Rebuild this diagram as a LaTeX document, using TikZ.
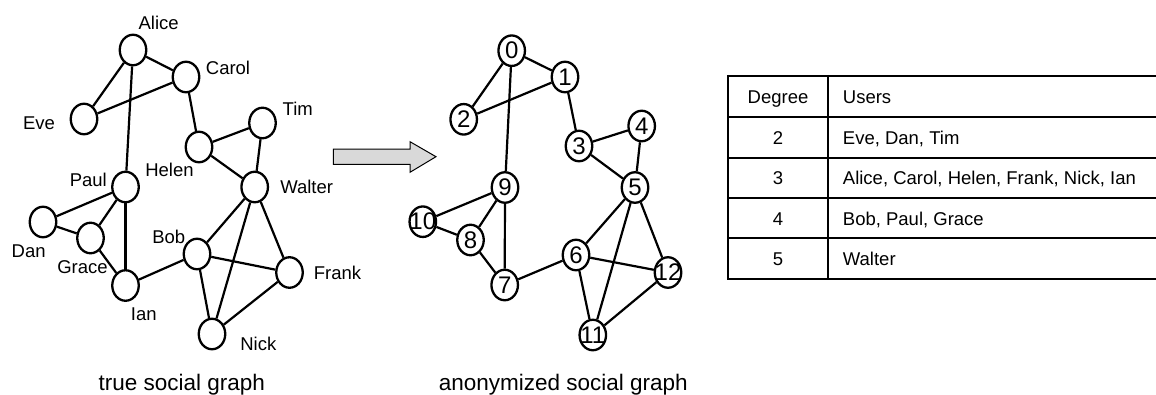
\documentclass[tikz,border=0pt]{standalone}
\usepackage{fontspec}
\setmainfont{Liberation Sans}
\usetikzlibrary{shapes.geometric}
\begin{document}
\begin{tikzpicture}[x=1pt,y=-1pt,
  vtx/.style={ellipse, draw, line width=2.3pt, minimum width=26.5pt, minimum height=30.5pt, inner sep=0pt},
  edge/.style={line width=2.2pt},
  lbl/.style={font=\fontsize{18.5}{20}\selectfont, inner sep=0pt},
  num/.style={font=\fontsize{24}{26}\selectfont, inner sep=0pt},
  capt/.style={font=\fontsize{22.5}{24}\selectfont, inner sep=0pt, anchor=base},
  cell/.style={font=\fontsize{18.5}{20}\selectfont, inner sep=0pt, anchor=base},
  tline/.style={line width=2.2pt},
  bigarrow/.style={draw, line width=1pt, fill=black!15}]
\useasboundingbox (0,0) rectangle (1156,394);

% ---------- true social graph ----------
\node[vtx] (alice)  at (133,50)    {};
\node[vtx] (carol)  at (186,77)    {};
\node[vtx] (eve)    at (84,119)    {};
\node[vtx] (helen)  at (199,147)   {};
\node[vtx] (tim)    at (262.5,123) {};
\node[vtx] (walter) at (254.7,187) {};
\node[vtx] (paul)   at (125.5,187) {};
\node[vtx] (dan)    at (43,222)    {};
\node[vtx] (grace)  at (90.5,238)  {};
\node[vtx] (ian)    at (125.5,285.5) {};
\node[vtx] (bob)    at (197,254)   {};
\node[vtx] (frank)  at (289.5,272.5) {};
\node[vtx] (nick)   at (212,334)   {};

\node[lbl] (lalice)  at (158.7,22.5)  {Alice};
\node[lbl] (lcarol)  at (228,68.3)    {Carol};
\node[lbl] (leve)    at (39,123.7)    {Eve};
\node[lbl] (ltim)    at (297.8,108.3) {Tim};
\node[lbl] (lhelen)  at (169.5,170)   {Helen};
\node[lbl] (lwalter) at (306.7,186.7) {Walter};
\node[lbl] (lpaul)   at (88.3,179.7)  {Paul};
\node[lbl] (ldan)    at (28.7,251.7)  {Dan};
\node[lbl] (lgrace)  at (82.5,266.7)  {Grace};
\node[lbl] (lian)    at (143.8,314)   {Ian};
\node[lbl] (lbob)    at (168.8,236.7) {Bob};
\node[lbl] (lfrank)  at (337.5,273.3) {Frank};
\node[lbl] (lnick)   at (258.3,344)   {Nick};

\draw[edge] (alice) -- (carol);
\draw[edge] (alice) -- (eve);
\draw[edge] (alice) -- (paul);
\draw[edge] (eve) -- (carol);
\draw[edge] (carol) -- (helen);
\draw[edge] (helen) -- (tim);
\draw[edge] (helen) -- (walter);
\draw[edge] (tim) -- (walter);
\draw[edge] (walter) -- (bob);
\draw[edge] (walter) -- (nick);
\draw[edge] (walter) -- (frank);
\draw[edge] (bob) -- (frank);
\draw[edge] (bob) -- (nick);
\draw[edge] (frank) -- (nick);
\draw[edge] (bob) -- (ian);
\draw[edge] (paul) -- (dan);
\draw[edge] (paul) -- (grace);
\draw[edge] (paul) -- (ian);
\draw[edge] (dan) -- (grace);
\draw[edge] (grace) -- (ian);

\node[capt] (cap1) at (181.7,390) {true social graph};

% ---------- arrow ----------
\draw[bigarrow] (333.3,149) -- (410,149) -- (410,141.7) -- (436,156.7)
  -- (410,172.3) -- (410,164.3) -- (333.3,164.3) -- cycle;

% ---------- anonymized social graph ----------
\node[vtx, label={[num]center:0}]  (r0)  at (511.7,50.7)  {};
\node[vtx, label={[num]center:1}]  (r1)  at (565,77)      {};
\node[vtx, label={[num]center:2}]  (r2)  at (463.7,119.3) {};
\node[vtx, label={[num]center:3}]  (r3)  at (579,146)     {};
\node[vtx, label={[num]center:4}]  (r4)  at (641.7,126)   {};
\node[vtx, label={[num]center:5}]  (r5)  at (635,187.5)   {};
\node[vtx, label={[num]center:9}]  (r9)  at (505,187.5)   {};
\node[vtx, label={[num]center:10}] (r10) at (422.8,221.7) {};
\node[vtx, label={[num]center:8}]  (r8)  at (470.5,240)   {};
\node[vtx, label={[num]center:7}]  (r7)  at (504.7,285)   {};
\node[vtx, label={[num]center:6}]  (r6)  at (576,255)     {};
\node[vtx, label={[num]center:12}] (r12) at (668,272.5)   {};
\node[vtx, label={[num]center:11}] (r11) at (592.8,335)   {};

\draw[edge] (r0) -- (r1);
\draw[edge] (r0) -- (r2);
\draw[edge] (r0) -- (r9);
\draw[edge] (r1) -- (r2);
\draw[edge] (r1) -- (r3);
\draw[edge] (r3) -- (r4);
\draw[edge] (r3) -- (r5);
\draw[edge] (r4) -- (r5);
\draw[edge] (r5) -- (r6);
\draw[edge] (r5) -- (r11);
\draw[edge] (r5) -- (r12);
\draw[edge] (r6) -- (r12);
\draw[edge] (r6) -- (r11);
\draw[edge] (r11) -- (r12);
\draw[edge] (r6) -- (r7);
\draw[edge] (r9) -- (r10);
\draw[edge] (r9) -- (r8);
\draw[edge] (r9) -- (r7);
\draw[edge] (r10) -- (r8);
\draw[edge] (r8) -- (r7);

\node[capt] (cap2) at (563.3,390) {anonymized social graph};

% ---------- table ----------
\draw[tline] (728.3,76) -- (1156,76);
\draw[tline] (728.3,117.3) -- (1156,117.3);
\draw[tline] (728.3,157.7) -- (1156,157.7);
\draw[tline] (728.3,197.7) -- (1156,197.7);
\draw[tline] (728.3,238.3) -- (1156,238.3);
\draw[tline] (728.3,279.3) -- (1156,279.3);
\draw[tline] (728.3,74.9) -- (728.3,280.4);
\draw[tline] (828.3,74.9) -- (828.3,280.4);

\node[cell] (h1) at (778,103.5) {Degree};
\node[cell, anchor=base west] (h2) at (842.7,103.5) {Users};
\node[cell] (d2) at (778,144.2) {2};
\node[cell, anchor=base west] (u2) at (842.7,144.2) {Eve, Dan, Tim};
\node[cell] (d3) at (778,184.8) {3};
\node[cell, anchor=base west] (u3) at (842.7,184.8) {Alice, Carol, Helen, Frank, Nick, Ian};
\node[cell] (d4) at (778,225.2) {4};
\node[cell, anchor=base west] (u4) at (842.7,225.2) {Bob, Paul, Grace};
\node[cell] (d5) at (778,265.8) {5};
\node[cell, anchor=base west] (u5) at (842.7,265.8) {Walter};
\end{tikzpicture}
\end{document}
